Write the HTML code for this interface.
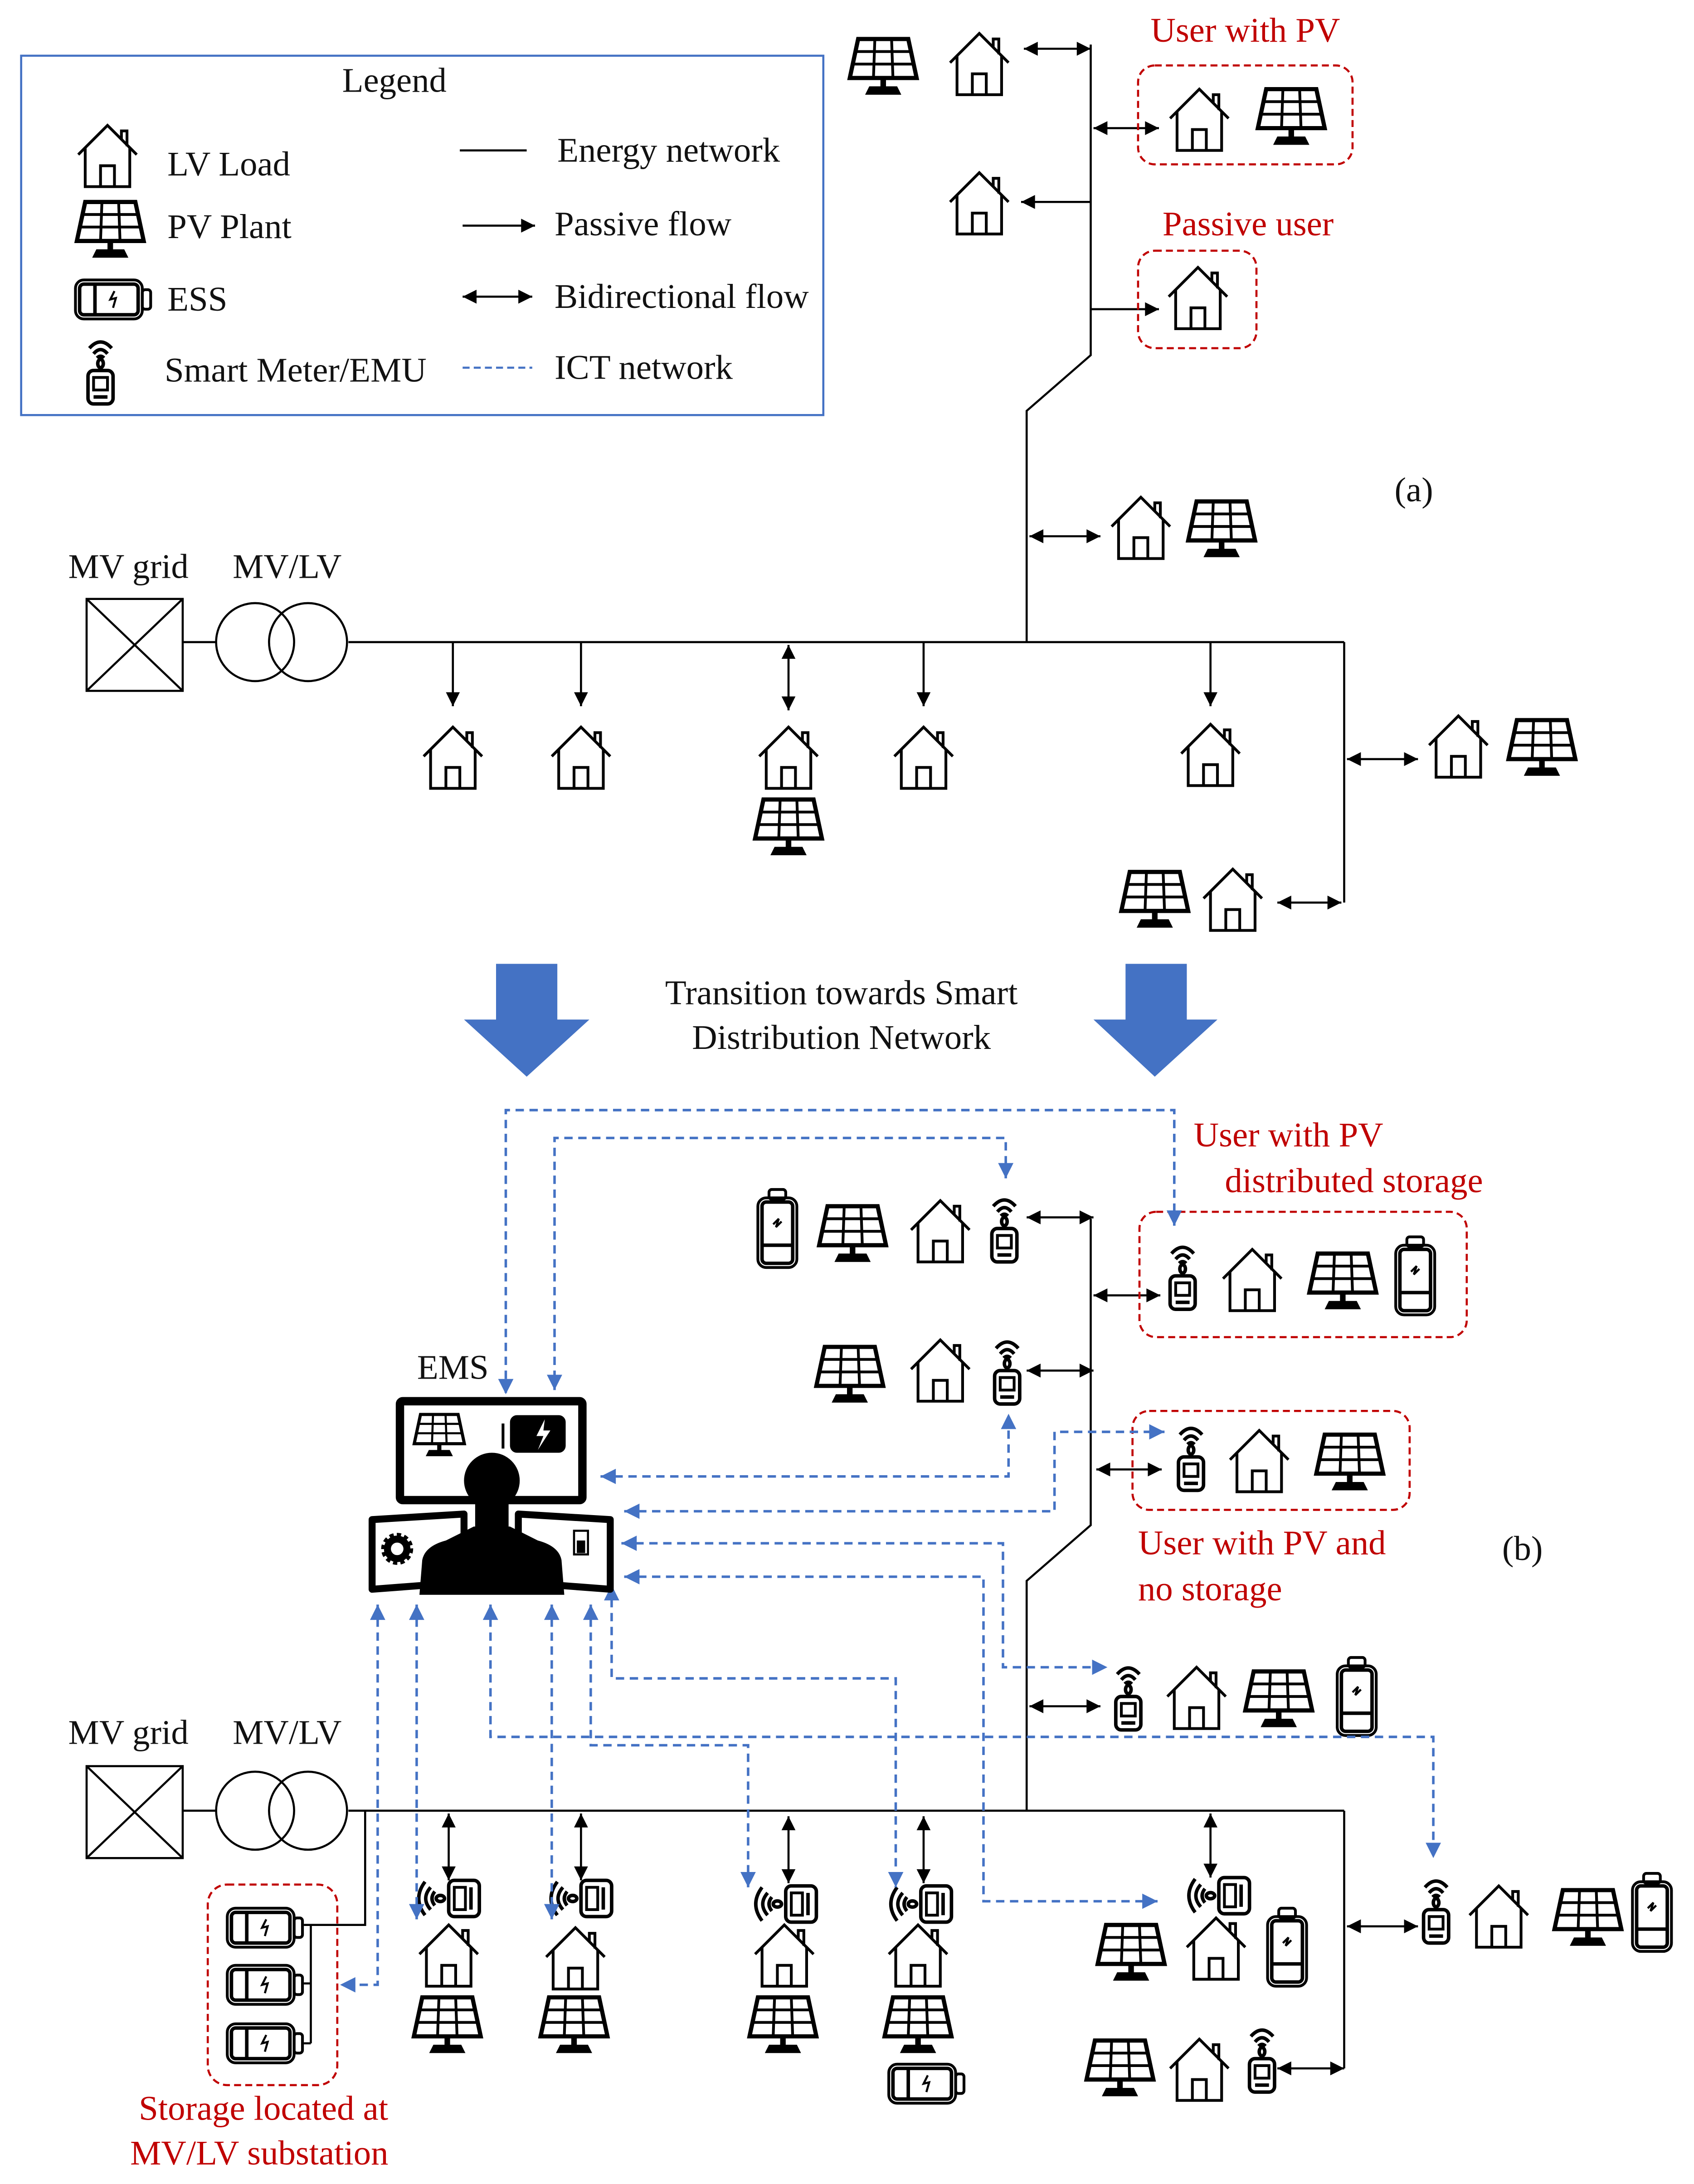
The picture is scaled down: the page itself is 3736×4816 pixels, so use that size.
<!DOCTYPE html>
<html><head><meta charset="utf-8"><style>
html,body{margin:0;padding:0;background:#fff}
svg{display:block}
text{font-family:"Liberation Serif",serif;font-size:25px;fill:#111}
.r{fill:#c00000}
</style></head><body>
<svg width="3736" height="4816" viewBox="0 0 1216 1568" xmlns="http://www.w3.org/2000/svg">
<defs>
<marker id="ab" viewBox="0 0 10 10" refX="10" refY="5" markerWidth="11" markerHeight="10" markerUnits="userSpaceOnUse" orient="auto-start-reverse"><path d="M0,0 L10,5 L0,10 Z" fill="#000"/></marker>
<marker id="au" viewBox="0 0 10 10" refX="10" refY="5" markerWidth="12" markerHeight="11" markerUnits="userSpaceOnUse" orient="auto-start-reverse"><path d="M0,0 L10,5 L0,10 Z" fill="#4472c4"/></marker>
<g id="house" fill="none" stroke="#000" stroke-width="2">
<path d="M2,23 L23,2 L44,23"/><path d="M33,12 V6 H37 V17"/><path d="M7,18 V46 H39 V18"/><path d="M18,46 V31 H28 V46"/>
</g>
<g id="pv">
<path d="M9,2 H45 L51,30 H3 Z" fill="#fff" stroke="#000" stroke-width="3"/>
<path d="M21,2 L20,30 M33,2 L34,30 M7,11 H47 M5,20 H49" stroke="#000" stroke-width="2" fill="none"/>
<rect x="25" y="30" width="4" height="7" fill="#000"/>
<path d="M17,36 H37 L40,42 H14 Z" fill="#000"/>
</g>
<g id="batV" fill="none" stroke="#000">
<rect x="2" y="8" width="28" height="50" rx="6" stroke-width="2"/>
<rect x="5" y="11" width="22" height="44" rx="3" stroke-width="2.5"/>
<rect x="10" y="2" width="12" height="7" rx="2" stroke-width="2"/>
<path d="M5,42 H27" stroke-width="2.5"/>
<path d="M13,27 L17,23 L15,29 L19,25" stroke-width="1.5"/>
</g>
<g id="batH" fill="none" stroke="#000">
<rect x="2" y="2" width="48" height="28" rx="6" stroke-width="2"/>
<rect x="5" y="5" width="42" height="22" rx="3" stroke-width="2.5"/>
<rect x="50" y="9" width="6" height="14" rx="2" stroke-width="2"/>
<path d="M16,5 V27" stroke-width="2.5"/>
<path d="M30,10 L27,16 L31,15 L29,22" stroke-width="1.5"/>
</g>
<g id="meterV" fill="none" stroke="#000" stroke-width="2.5">
<path d="M5,10 Q13,1 21,10"/><path d="M8,14 Q13,8 18,14"/><path d="M10.5,17 Q13,14.5 15.5,17"/>
<ellipse cx="13" cy="21" rx="2" ry="3"/>
<rect x="4" y="26" width="18" height="24" rx="4"/>
<rect x="8" y="31" width="10" height="9" stroke-width="2"/>
<path d="M8,45 H18"/>
</g>
<g id="meterH" fill="none" stroke="#000" stroke-width="2.5">
<path d="M10,3 Q1,15 10,27"/><path d="M14,7 Q7,15 14,23"/><path d="M17,10 Q13,15 17,20"/>
<ellipse cx="21" cy="15" rx="3" ry="2.2"/>
<rect x="27" y="2" width="22" height="26" rx="4"/>
<rect x="31" y="7" width="8" height="16" stroke-width="2"/>
<path d="M43,7 V23"/>
</g>
</defs>

<!-- LEGEND -->
<rect x="15" y="40" width="576" height="258" fill="none" stroke="#4472c4" stroke-width="1.5"/>
<text x="283" y="66" text-anchor="middle">Legend</text>
<use href="#house" x="54" y="88"/>
<use href="#pv" x="52" y="143"/>
<use href="#batH" x="52" y="199"/>
<use href="#meterV" x="59" y="240"/>
<text x="120" y="126">LV Load</text>
<text x="120" y="171">PV Plant</text>
<text x="120" y="223">ESS</text>
<text x="118" y="274">Smart Meter/EMU</text>
<line x1="330" y1="108" x2="378" y2="108" stroke="#000" stroke-width="1.5"/>
<line x1="332" y1="162" x2="384" y2="162" stroke="#000" stroke-width="1.5" marker-end="url(#ab)"/>
<line x1="332" y1="213" x2="382" y2="213" stroke="#000" stroke-width="1.5" marker-start="url(#ab)" marker-end="url(#ab)"/>
<line x1="332" y1="264" x2="382" y2="264" stroke="#4472c4" stroke-width="1.5" stroke-dasharray="5,3"/>
<text x="400" y="116">Energy network</text>
<text x="398" y="169">Passive flow</text>
<text x="398" y="221">Bidirectional flow</text>
<text x="398" y="272">ICT network</text>

<!-- (a) -->
<g stroke="#000" stroke-width="1.5" fill="none">
<polyline points="783,32 783,255 737,295 737,461"/>
<line x1="250" y1="461" x2="965" y2="461"/>
<line x1="965" y1="461" x2="965" y2="648"/>
<line x1="131" y1="461" x2="155" y2="461"/>
<rect x="62" y="430" width="69" height="66"/>
<line x1="62" y1="430" x2="131" y2="496"/><line x1="131" y1="430" x2="62" y2="496"/>
<circle cx="183" cy="461" r="28"/><circle cx="221" cy="461" r="28"/>
</g>
<g stroke="#000" stroke-width="1.5">
<line x1="735" y1="35" x2="783" y2="35" marker-start="url(#ab)" marker-end="url(#ab)"/>
<line x1="785" y1="92" x2="832" y2="92" marker-start="url(#ab)" marker-end="url(#ab)"/>
<line x1="783" y1="145" x2="733" y2="145" marker-end="url(#ab)"/>
<line x1="783" y1="222" x2="832" y2="222" marker-end="url(#ab)"/>
<line x1="739" y1="385" x2="790" y2="385" marker-start="url(#ab)" marker-end="url(#ab)"/>
<line x1="325" y1="461" x2="325" y2="507" marker-end="url(#ab)"/>
<line x1="417" y1="461" x2="417" y2="507" marker-end="url(#ab)"/>
<line x1="663" y1="461" x2="663" y2="507" marker-end="url(#ab)"/>
<line x1="869" y1="461" x2="869" y2="507" marker-end="url(#ab)"/>
<line x1="566" y1="463" x2="566" y2="510" marker-start="url(#ab)" marker-end="url(#ab)"/>
<line x1="967" y1="545" x2="1018" y2="545" marker-start="url(#ab)" marker-end="url(#ab)"/>
<line x1="917" y1="648" x2="963" y2="648" marker-start="url(#ab)" marker-end="url(#ab)"/>
</g>
<rect x="817" y="47" width="154" height="71" rx="12" fill="none" stroke="#c00000" stroke-width="1.5" stroke-dasharray="5,3"/>
<rect x="817" y="180" width="85" height="70" rx="12" fill="none" stroke="#c00000" stroke-width="1.5" stroke-dasharray="5,3"/>
<use href="#pv" x="607" y="26"/><use href="#house" x="680" y="22"/>
<use href="#house" x="838" y="62"/><use href="#pv" x="900" y="62"/>
<use href="#house" x="680" y="122"/>
<use href="#house" x="837" y="190"/>
<use href="#house" x="796" y="355"/><use href="#pv" x="850" y="358"/>
<use href="#house" x="302" y="520"/><use href="#house" x="394" y="520"/>
<use href="#house" x="543" y="520"/><use href="#pv" x="539" y="572"/>
<use href="#house" x="640" y="520"/><use href="#house" x="846" y="518"/>
<use href="#house" x="1024" y="512"/><use href="#pv" x="1080" y="515"/>
<use href="#pv" x="802" y="624"/><use href="#house" x="862" y="622"/>
<text x="894" y="30" text-anchor="middle" class="r">User with PV</text>
<text x="896" y="169" text-anchor="middle" class="r">Passive user</text>
<text x="1015" y="360" text-anchor="middle">(a)</text>
<text x="92" y="415" text-anchor="middle">MV grid</text>
<text x="206" y="415" text-anchor="middle">MV/LV</text>

<!-- transition -->
<polygon points="356,692 400,692 400,732 423,732 378,773 333,732 356,732" fill="#4472c4"/>
<polygon points="808,692 852,692 852,732 874,732 829,773 785,732 808,732" fill="#4472c4"/>
<text x="604" y="721" text-anchor="middle">Transition towards Smart</text>
<text x="604" y="753" text-anchor="middle">Distribution Network</text>

<!-- (b) network -->
<g stroke="#000" stroke-width="1.5" fill="none">
<polyline points="783,875 783,1095 737,1135 737,1300"/>
<line x1="250" y1="1300" x2="965" y2="1300"/>
<line x1="965" y1="1300" x2="965" y2="1485"/>
<line x1="131" y1="1300" x2="155" y2="1300"/>
<rect x="62" y="1268" width="69" height="66"/>
<line x1="62" y1="1268" x2="131" y2="1334"/><line x1="131" y1="1268" x2="62" y2="1334"/>
<circle cx="183" cy="1300" r="28"/><circle cx="221" cy="1300" r="28"/>
<polyline points="262,1300 262,1382 218,1382"/>
<line x1="223" y1="1382" x2="223" y2="1467"/>
<line x1="218" y1="1424" x2="223" y2="1424"/>
<line x1="218" y1="1467" x2="223" y2="1467"/>
</g>
<g stroke="#000" stroke-width="1.5">
<line x1="737" y1="874" x2="785" y2="874" marker-start="url(#ab)" marker-end="url(#ab)"/>
<line x1="785" y1="930" x2="833" y2="930" marker-start="url(#ab)" marker-end="url(#ab)"/>
<line x1="737" y1="984" x2="785" y2="984" marker-start="url(#ab)" marker-end="url(#ab)"/>
<line x1="787" y1="1055" x2="834" y2="1055" marker-start="url(#ab)" marker-end="url(#ab)"/>
<line x1="739" y1="1225" x2="790" y2="1225" marker-start="url(#ab)" marker-end="url(#ab)"/>
<line x1="322" y1="1302" x2="322" y2="1350" marker-start="url(#ab)" marker-end="url(#ab)"/>
<line x1="417" y1="1302" x2="417" y2="1350" marker-start="url(#ab)" marker-end="url(#ab)"/>
<line x1="566" y1="1304" x2="566" y2="1352" marker-start="url(#ab)" marker-end="url(#ab)"/>
<line x1="663" y1="1304" x2="663" y2="1352" marker-start="url(#ab)" marker-end="url(#ab)"/>
<line x1="869" y1="1302" x2="869" y2="1348" marker-start="url(#ab)" marker-end="url(#ab)"/>
<line x1="967" y1="1383" x2="1018" y2="1383" marker-start="url(#ab)" marker-end="url(#ab)"/>
<line x1="917" y1="1485" x2="965" y2="1485" marker-start="url(#ab)" marker-end="url(#ab)"/>
</g>
<rect x="818" y="870" width="235" height="90" rx="12" fill="none" stroke="#c00000" stroke-width="1.5" stroke-dasharray="5,3"/>
<rect x="813" y="1013" width="199" height="71" rx="12" fill="none" stroke="#c00000" stroke-width="1.5" stroke-dasharray="5,3"/>
<rect x="149" y="1353" width="93" height="144" rx="14" fill="none" stroke="#c00000" stroke-width="1.5" stroke-dasharray="5,3"/>

<use href="#batV" x="542" y="852"/><use href="#pv" x="585" y="864"/><use href="#house" x="652" y="860"/><use href="#meterV" x="708" y="856"/>
<use href="#meterV" x="836" y="890"/><use href="#house" x="876" y="895"/><use href="#pv" x="937" y="898"/><use href="#batV" x="1000" y="886"/>
<use href="#pv" x="583" y="965"/><use href="#house" x="652" y="960"/><use href="#meterV" x="710" y="958"/>
<use href="#meterV" x="842" y="1020"/><use href="#house" x="881" y="1025"/><use href="#pv" x="942" y="1028"/>
<use href="#meterV" x="797" y="1192"/><use href="#house" x="836" y="1195"/><use href="#pv" x="891" y="1198"/><use href="#batV" x="958" y="1188"/>
<use href="#meterH" x="295" y="1348"/><use href="#house" x="299" y="1380"/><use href="#pv" x="294" y="1432"/>
<use href="#meterH" x="390" y="1348"/><use href="#house" x="390" y="1382"/><use href="#pv" x="385" y="1432"/>
<use href="#meterH" x="537" y="1352"/><use href="#house" x="540" y="1380"/><use href="#pv" x="535" y="1432"/>
<use href="#meterH" x="634" y="1352"/><use href="#house" x="636" y="1380"/><use href="#pv" x="632" y="1432"/><use href="#batH" x="636" y="1480"/>
<use href="#meterH" x="848" y="1346"/><use href="#house" x="850" y="1375"/><use href="#pv" x="785" y="1380"/><use href="#batV" x="908" y="1368"/>
<use href="#meterV" x="1018" y="1345"/><use href="#house" x="1053" y="1352"/><use href="#pv" x="1113" y="1355"/><use href="#batV" x="1170" y="1343"/>
<use href="#pv" x="777" y="1463"/><use href="#house" x="838" y="1462"/><use href="#meterV" x="893" y="1452"/>
<use href="#batH" x="161" y="1368"/><use href="#batH" x="161" y="1409"/><use href="#batH" x="161" y="1451"/>

<!-- ICT -->
<g fill="none" stroke="#4472c4" stroke-width="1.8" stroke-dasharray="6,4">
<path d="M843,880 V797 H363 V1001" marker-start="url(#au)" marker-end="url(#au)"/>
<path d="M722,846 V817 H398 V998" marker-start="url(#au)" marker-end="url(#au)"/>
<path d="M431,1060 H724 V1015" marker-start="url(#au)" marker-end="url(#au)"/>
<path d="M448,1085 H757 V1028 H836" marker-start="url(#au)" marker-end="url(#au)"/>
<path d="M446,1108 H720 V1197 H795" marker-start="url(#au)" marker-end="url(#au)"/>
<path d="M448,1132 H706 V1365 H831" marker-start="url(#au)" marker-end="url(#au)"/>
<path d="M439,1138 V1205 H643 V1355" marker-start="url(#au)" marker-end="url(#au)"/>
<path d="M424,1152 V1253 H537 V1355" marker-start="url(#au)" marker-end="url(#au)"/>
<path d="M352,1152 V1247 H1029 V1334" marker-start="url(#au)" marker-end="url(#au)"/>
<path d="M396,1152 V1378" marker-start="url(#au)" marker-end="url(#au)"/>
<path d="M299,1152 V1378" marker-start="url(#au)" marker-end="url(#au)"/>
<path d="M271,1152 V1425 H244" marker-start="url(#au)" marker-end="url(#au)"/>
</g>

<!-- EMS icon -->
<rect x="287" y="1006" width="131" height="71" rx="2" fill="#fff" stroke="#000" stroke-width="6"/>
<g transform="translate(295,1014) scale(0.75)"><use href="#pv"/></g>
<rect x="366" y="1016" width="40" height="27" rx="5" fill="#000"/>
<path d="M361,1022 V1040" stroke="#000" stroke-width="2"/>
<path d="M391,1019 L385,1031 L390,1031 L386,1041 L395,1027 L390,1027 Z" fill="#fff"/>
<path d="M267,1091 L333,1087 L333,1136 L267,1141 Z" fill="#fff" stroke="#000" stroke-width="5" stroke-linejoin="round"/>
<path d="M372,1087 L438,1091 L438,1141 L372,1136 Z" fill="#fff" stroke="#000" stroke-width="5" stroke-linejoin="round"/>
<circle cx="285" cy="1112" r="7" fill="none" stroke="#000" stroke-width="5"/>
<circle cx="285" cy="1112" r="10" fill="none" stroke="#000" stroke-width="3" stroke-dasharray="3,2.2"/>
<rect x="412" y="1099" width="10" height="17" fill="none" stroke="#000" stroke-width="1.5"/>
<rect x="414" y="1106" width="6" height="9" fill="#000"/>
<circle cx="353" cy="1063" r="20" fill="#000"/>
<rect x="341" y="1070" width="24" height="30" fill="#000"/>
<path d="M301,1145 L303,1120 Q305,1110 320,1106 L340,1096 L366,1096 L386,1106 Q401,1110 403,1120 L405,1145 Z" fill="#000"/>
<text x="325" y="990" text-anchor="middle" font-size="26">EMS</text>

<text x="925" y="823" text-anchor="middle" class="r">User with PV</text>
<text x="972" y="856" text-anchor="middle" class="r">distributed storage</text>
<text x="817" y="1116" class="r">User with PV and</text>
<text x="817" y="1149" class="r">no storage</text>
<text x="1093" y="1120" text-anchor="middle">(b)</text>
<text x="92" y="1252" text-anchor="middle">MV grid</text>
<text x="206" y="1252" text-anchor="middle">MV/LV</text>
<text x="189" y="1522" text-anchor="middle" class="r">Storage located at</text>
<text x="186" y="1554" text-anchor="middle" class="r">MV/LV substation</text>
</svg>
</body></html>
